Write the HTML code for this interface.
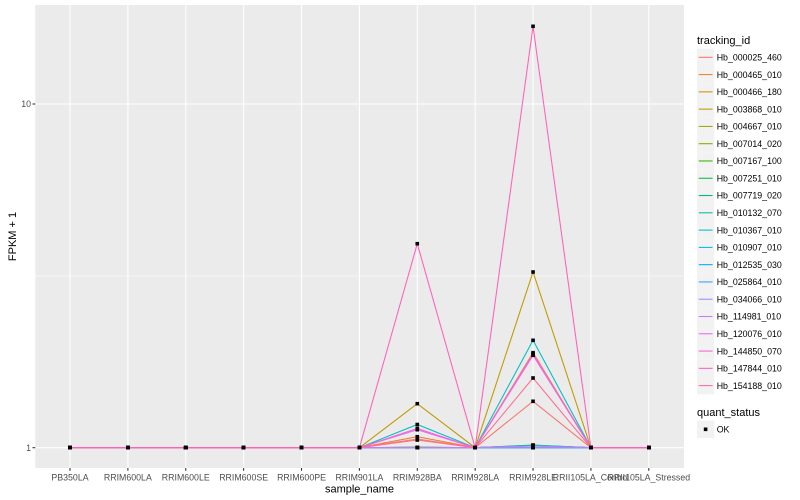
<!DOCTYPE html>
<html><head><meta charset="utf-8"><style>
html,body{margin:0;padding:0;background:#fff;}
svg{display:block;font-family:"Liberation Sans",Arial,sans-serif;}
</style></head><body>
<svg id="c" width="800" height="500" viewBox="0 0 800 500" xmlns="http://www.w3.org/2000/svg">
<rect x="0" y="0" width="800" height="500" fill="#fff"/>
<rect x="35.3" y="5" width="648.7" height="463" fill="#EBEBEB"/>
<g stroke="#fff" fill="none">
<line x1="35.3" x2="684" y1="276" y2="276" stroke-width="0.53"/>
<line x1="35.3" x2="684" y1="104" y2="104" stroke-width="1.07"/>
<line x1="35.3" x2="684" y1="447.7" y2="447.7" stroke-width="1.07"/>
<g id="vg" stroke-width="1.07"></g>
</g>
<g id="series"></g>
<g id="pts"></g>
<g stroke="#333" stroke-width="1.07">
<line x1="32.5" x2="35.3" y1="104" y2="104"/>
<line x1="32.5" x2="35.3" y1="447.7" y2="447.7"/>
<g id="xt"></g>
</g>
<g font-size="8.8" fill="#4D4D4D" text-anchor="end">
<text x="31" y="107.2">10</text>
<text x="31" y="450.9">1</text>
</g>
<g id="xl" font-size="8.8" fill="#4D4D4D" text-anchor="middle"></g>
<text x="359.5" y="492.5" font-size="11" text-anchor="middle" fill="#000">sample_name</text>
<text transform="translate(16,236.5) rotate(-90)" font-size="11" text-anchor="middle" fill="#000">FPKM + 1</text>
<text x="697" y="44" font-size="11" fill="#000">tracking_id</text>
<g id="leg"></g>
<text x="697" y="416" font-size="11" fill="#000">quant_status</text>
<rect x="697" y="420.7" width="17.28" height="17.28" fill="#F2F2F2"/>
<rect x="703.8" y="427.5" width="3.6" height="3.6" fill="#000"/>
<text x="716.7" y="432.5" font-size="8.8" fill="#000">OK</text>
</svg>
<script>
(function(){
var NS="http://www.w3.org/2000/svg";
function el(t,a,p){var e=document.createElementNS(NS,t);for(var k in a)e.setAttribute(k,a[k]);p.appendChild(e);return e;}
var xs=[];for(var i=0;i<11;i++)xs.push(70.0+i*57.88);
var vg=document.getElementById('vg'),xt=document.getElementById('xt'),xl=document.getElementById('xl');
var labels=["PB350LA","RRIM600LA","RRIM600LE","RRIM600SE","RRIM600PE","RRIM901LA","RRIM928BA","RRIM928LA","RRIM928LE","RRII105LA_Control","RRII105LA_Stressed"];
xs.forEach(function(x,i){
 el('line',{x1:x,x2:x,y1:5,y2:468},vg);
 el('line',{x1:x,x2:x,y1:468,y2:470.8},xt);
 var t=el('text',{x:x,y:480.3},xl);t.textContent=labels[i];
});
var B=447.7;
var S=[
["#F8766D","Hb_000025_460",440,401.3],
["#EA8331","Hb_000465_010",436.7,352.7],
["#D89000","Hb_000466_180",447.3,445.5],
["#C09B00","Hb_003868_010",403.7,272],
["#A3A500","Hb_004667_010",B,B],
["#7CAE00","Hb_007014_020",447.3,445.5],
["#39B600","Hb_007167_100",B,446],
["#00BB4E","Hb_007251_010",447.3,445.3],
["#00BF7D","Hb_007719_020",B,B],
["#00C1A3","Hb_010132_070",B,445],
["#00BFC4","Hb_010367_010",424.5,340.3],
["#00BAE0","Hb_010907_010",B,B],
["#00B0F6","Hb_012535_030",B,B],
["#35A2FF","Hb_025864_010",B,B],
["#9590FF","Hb_034066_010",B,B],
["#C77CFF","Hb_114981_010",B,446],
["#E76BF3","Hb_120076_010",429.7,355.3],
["#FA62DB","Hb_144850_070",428.5,354],
["#FF62BC","Hb_147844_010",243.7,26.3],
["#FF6C91","Hb_154188_010",439,378]
];
var sg=document.getElementById('series'),pg=document.getElementById('pts'),lg=document.getElementById('leg');
var order=[0,1,2,3,4,5,6,7,8,9,10,11,12,13,14,15,16,17,19,18];
order.forEach(function(j){
 var s=S[j];
 var ys=[B,B,B,B,B,B,s[2],B,s[3],B,B];
 var d=xs.map(function(x,i){return (i?'L':'M')+x.toFixed(2)+' '+ys[i];}).join(' ');
 el('path',{d:d,stroke:s[0],'stroke-width':1.07,fill:'none'},sg);
 xs.forEach(function(x,i){el('rect',{x:(x-1.8).toFixed(2),y:(ys[i]-1.8).toFixed(2),width:3.6,height:3.6,fill:'#000'},pg);});
});
S.forEach(function(s,j){
 var cy=57.3+j*17.28;
 el('rect',{x:697,y:(cy-8.64).toFixed(2),width:17.28,height:17.28,fill:'#F2F2F2'},lg);
 el('line',{x1:698.7,x2:712.6,y1:cy.toFixed(2),y2:cy.toFixed(2),stroke:s[0],'stroke-width':1.07},lg);
 var t=el('text',{x:716.7,y:(cy+3.2).toFixed(2),'font-size':8.8,fill:'#000'},lg);t.textContent=s[1];
});
})();
</script>
</body></html>
